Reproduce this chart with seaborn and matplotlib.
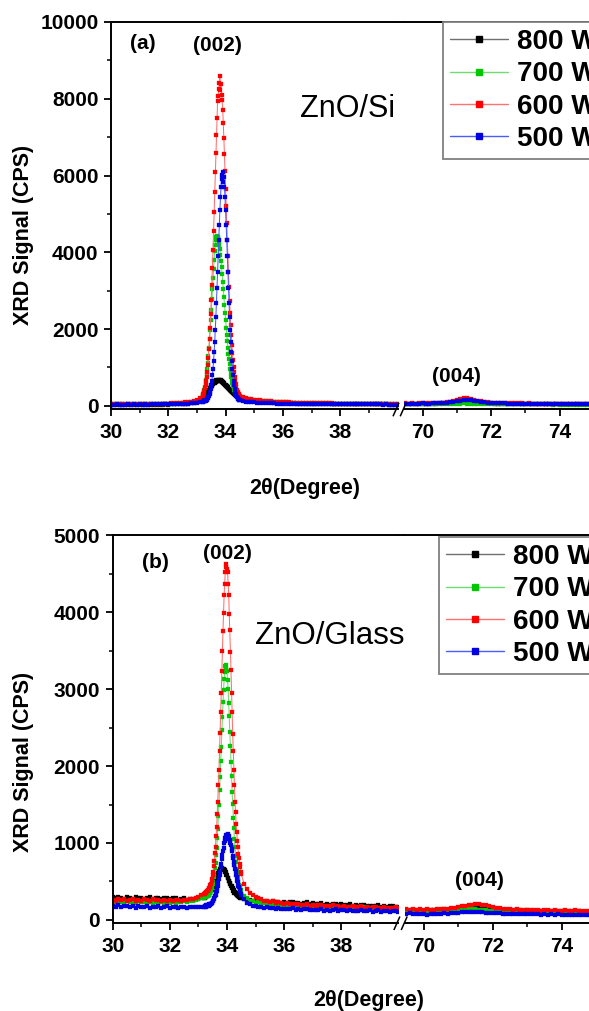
import numpy as np
import matplotlib
matplotlib.use("Agg")
import matplotlib.pyplot as plt
from matplotlib.lines import Line2D
from matplotlib.ticker import FixedLocator
import seaborn as sns

# ---------------------------------------------------------------- data
powers = ["800 W", "700 W", "600 W", "500 W"]
marker_colors = ["#000000", "#00c800", "#ff0000", "#0000e0"]
line_colors = ["#707070", "#70dc70", "#ff7070", "#4b5cff"]

# scan grids (2-theta, degrees): coarse baseline, fine (002) region, coarse tail
two_theta_low = np.round(np.concatenate([
    np.arange(30.0, 33.15, 0.1),
    np.arange(33.2, 34.49, 0.02),
    np.arange(34.5, 40.05, 0.1)]), 2)
two_theta_high = np.round(np.arange(69.5, 75.55, 0.1), 2)

# ZnO/Si, 30-40 deg
si_800_low = [
    28, 31, 27, 30, 29, 32, 28, 31, 30, 33, 29, 32, 31, 34, 30, 33, 32, 35, 33, 36,
    35, 37, 38, 40, 42, 45, 50, 56, 63, 75, 90, 126,
    188, 204, 222, 238, 256, 276, 296, 317, 339, 360, 384, 407, 431, 455, 478, 500,
    523, 544, 564, 584, 610, 598, 641, 622, 668, 645, 676, 655, 684, 650, 672, 640,
    661, 628, 637, 606, 614, 580, 587, 552, 551, 518, 514, 485, 480, 452, 447, 421,
    419, 393, 392, 365, 364, 340, 338, 315, 316, 294, 295, 274, 276, 256, 258, 240, 242,
    235, 205, 182, 163, 148, 134, 123, 113, 106, 99, 93, 88, 83, 79, 76, 72, 70, 67,
    65, 63, 61, 59, 58, 56, 55, 54, 52, 51, 50, 49, 48, 47, 46, 46, 45, 44, 43, 43,
    42, 41, 41, 40, 40, 39, 39, 38, 38, 37, 37, 36, 36, 36, 35, 35, 34, 34]
si_700_low = [
    38, 42, 36, 41, 39, 44, 40, 37, 43, 41, 45, 42, 46, 43, 47, 45, 49, 47, 51, 50,
    54, 57, 60, 64, 67, 72, 78, 85, 94, 104, 118, 138,
    255, 290, 342, 404, 478, 566, 675, 802, 947, 1113, 1297, 1503, 1731, 1972, 2230,
    2497, 2773, 3053, 3325, 3575, 3811, 4030, 4192, 4315, 4394, 4420,
    4407, 4363, 4293, 4201, 4078, 3938, 3776, 3605, 3424, 3229, 3036, 2830, 2624,
    2427, 2230, 2037, 1858, 1682, 1516, 1363, 1219, 1091, 969, 856, 758, 666, 589,
    522, 460, 420, 385, 350, 320, 295, 272, 255, 240, 228, 218,
    210, 190, 173, 160, 149, 140, 132, 126, 119, 114, 109, 104, 100, 97, 93, 91, 88,
    85, 83, 81, 79, 77, 75, 73, 72, 70, 69, 67, 66, 65, 63, 62, 61, 60, 59, 58, 57,
    56, 55, 55, 54, 53, 52, 52, 51, 50, 50, 49, 48, 48, 47, 47, 46, 46, 45, 45]
si_600_low = [
    40, 36, 44, 39, 42, 37, 45, 41, 38, 46, 43, 40, 47, 44, 49, 45, 51, 48, 55, 52,
    58, 62, 66, 71, 76, 83, 91, 100, 112, 128, 152, 192,
    269, 305, 347, 399, 467, 535, 646, 750, 890, 1056, 1253, 1492, 1748, 2038, 2380,
    2747, 3157, 3584, 4062, 4549, 5062, 5582, 6086, 6590, 7060, 7504, 7930, 8080,
    8260, 8400, 8590, 8220, 8380, 8090, 7960, 7700, 7359, 6966, 6556, 6112, 5659,
    5207, 4754, 4310, 3892, 3482, 3089, 2730, 2406, 2107, 1833, 1586, 1372, 1184,
    1022, 877, 749, 655, 561, 484, 424, 373, 330, 296, 271,
    258, 226, 204, 189, 175, 164, 151, 145, 134, 129, 120, 117, 109, 107, 100, 98,
    93, 91, 87, 86, 81, 80, 77, 76, 73, 72, 70, 68, 69, 65, 64, 62, 63, 60, 58, 59,
    56, 57, 54, 55, 52, 53, 50, 52, 49, 51, 48, 50, 47, 49, 46, 48, 45, 47, 44, 46]
si_500_low = [
    33, 30, 36, 32, 35, 31, 37, 34, 36, 33, 38, 35, 37, 34, 39, 36, 40, 38, 42, 40,
    44, 42, 46, 45, 49, 52, 55, 58, 63, 68, 76, 88,
    105, 111, 117, 125, 130, 136, 147, 160, 179, 200, 229, 264, 314, 370, 447, 539,
    654, 794, 963, 1164, 1398, 1666, 1970, 2306, 2673, 3065, 3475, 3895, 4313, 4717,
    5094, 5428, 5708, 5919, 6010, 6100, 5830, 5960, 5708, 5428, 5094, 4717, 4313,
    3895, 3475, 3065, 2673, 2306, 1970, 1666, 1398, 1164, 963, 794, 654, 539, 447,
    370, 314, 264, 229, 200, 179, 160, 147,
    142, 124, 113, 103, 95, 88, 83, 78, 74, 70, 67, 64, 62, 60, 58, 57, 55, 54, 52,
    51, 50, 49, 48, 47, 46, 46, 45, 44, 44, 43, 43, 42, 42, 41, 41, 40, 40, 40, 39,
    39, 38, 39, 38, 37, 38, 37, 36, 37, 36, 36, 35, 36, 35, 35, 34, 35]

# ZnO/Si, 69.5-75.5 deg
si_800_high = [
    55, 53, 56, 54, 52, 55, 53, 56, 57, 59, 62, 66, 72, 79, 87, 96, 104, 110, 112, 108,
    100, 91, 82, 74, 68, 63, 60, 58, 57, 56, 55, 54, 55, 53, 54, 52, 53, 51, 52, 50,
    51, 49, 50, 48, 49, 47, 48, 46, 47, 45, 46, 44, 45, 43, 44, 42, 43, 41, 42, 40, 41]
si_700_high = [
    45, 43, 46, 44, 42, 45, 43, 46, 44, 47, 46, 48, 50, 52, 55, 58, 60, 62, 61, 59,
    56, 53, 50, 48, 46, 45, 44, 43, 44, 42, 43, 41, 42, 40, 41, 39, 40, 38, 39, 37,
    38, 36, 37, 35, 36, 34, 35, 33, 34, 32, 33, 31, 32, 30, 31, 29, 30, 28, 29, 27, 28]
si_600_high = [
    62, 60, 63, 61, 64, 62, 65, 64, 67, 70, 75, 82, 93, 108, 127, 150, 175, 194, 198, 186,
    163, 138, 117, 100, 88, 80, 74, 70, 68, 66, 65, 63, 64, 62, 63, 61, 62, 60, 61, 59,
    60, 58, 59, 57, 58, 56, 57, 55, 56, 54, 55, 53, 54, 52, 53, 51, 52, 50, 51, 49, 50]
si_500_high = [
    58, 61, 57, 60, 59, 62, 58, 61, 63, 65, 68, 73, 80, 90, 103, 118, 134, 146, 150, 145,
    132, 116, 101, 89, 80, 73, 68, 65, 63, 62, 60, 61, 59, 60, 58, 59, 57, 58, 56, 57,
    55, 56, 54, 55, 53, 54, 52, 53, 51, 52, 50, 51, 49, 50, 48, 49, 47, 48, 46, 47, 46]

# ZnO/Glass, 30-40 deg
glass_800_low = [
    292, 281, 300, 286, 277, 296, 289, 274, 298, 283, 291, 276, 287, 295, 272, 284,
    290, 269, 281, 288, 266, 279, 285, 263, 274, 281, 262, 270, 277, 268, 275, 284,
    289, 301, 290, 308, 297, 318, 309, 331, 326, 352, 348, 375, 379, 392, 421, 425,
    455, 460, 492, 497, 530, 540, 572, 578, 610, 612, 641, 640, 668, 660, 678, 665,
    676, 659, 668, 645, 646, 618, 617, 586, 583, 551, 545, 512, 509, 476, 473, 441,
    439, 409, 410, 381, 384, 356, 360, 335, 344, 318, 327, 307, 316, 294, 305, 288, 299,
    287, 276, 262, 259, 248, 253, 241, 249, 237, 244, 232, 240, 228, 235, 223, 231,
    219, 227, 234, 216, 224, 212, 220, 227, 208, 216, 203, 212, 219, 200, 209, 196,
    204, 211, 193, 201, 189, 198, 205, 186, 194, 182, 190, 198, 179, 187, 176, 185,
    192, 172, 181, 169, 178, 186, 166, 174]
glass_700_low = [
    238, 226, 244, 231, 220, 241, 229, 236, 218, 240, 227, 233, 221, 239, 225, 230,
    217, 236, 224, 229, 219, 234, 222, 228, 231, 240, 236, 245, 252, 258, 266, 279,
    284, 301, 292, 309, 300, 318, 312, 331, 329, 352, 350, 377, 381, 414, 428, 471,
    497, 552, 596, 671, 740, 839, 934, 1061, 1188, 1346, 1496, 1683, 1861, 2066,
    2252, 2463, 2641, 2834, 2984, 3131, 3219, 3296, 3312, 3281, 3235, 3114, 3002,
    2818, 2657, 2446, 2266, 2051, 1875, 1668, 1509, 1331, 1199, 1048, 945, 827, 750,
    658, 606, 539, 509, 457, 441, 400, 392,
    366, 311, 280, 252, 243, 226, 231, 214, 219, 206, 199, 208, 192, 186, 197, 181,
    188, 176, 184, 172, 180, 169, 177, 165, 174, 163, 170, 160, 168, 158, 166, 157,
    163, 171, 155, 161, 150, 159, 166, 152, 157, 148, 155, 162, 146, 153, 144, 151,
    158, 143, 150, 141, 148, 155, 139, 146]
glass_600_low = [
    262, 248, 271, 255, 266, 244, 259, 273, 251, 263, 246, 268, 257, 249, 270, 254,
    261, 243, 265, 252, 258, 247, 262, 256, 250, 264, 258, 266, 272, 284, 298, 318,
    338, 352, 341, 361, 355, 377, 372, 394, 396, 421, 428, 457, 470, 512, 538, 589,
    628, 703, 762, 866, 953, 1090, 1212, 1380, 1532, 1748, 1949, 2196, 2428, 2701,
    2955, 3241, 3495, 3759, 3986, 4220, 4373, 4528, 4591, 4632, 4556, 4527, 4368,
    4226, 3981, 3765, 3489, 3247, 2950, 2707, 2422, 2198, 1947, 1750, 1530, 1408,
    1252, 1147, 1028, 951, 858, 801, 729, 688, 629,
    592, 472, 401, 355, 318, 298, 279, 270, 252, 249, 238, 241, 226, 231, 219, 213,
    224, 205, 209, 201, 212, 195, 190, 203, 186, 194, 182, 188, 197, 179, 183, 176,
    190, 172, 178, 169, 185, 171, 166, 175, 162, 170, 180, 161, 167, 158, 163, 172,
    155, 160, 166, 152, 158, 149, 163, 154]
glass_500_low = [
    182, 171, 190, 165, 178, 186, 168, 175, 160, 184, 170, 163, 179, 158, 172, 166,
    181, 157, 169, 175, 154, 167, 172, 159, 164, 170, 156, 168, 162, 171, 166, 173,
    168, 186, 171, 189, 174, 192, 179, 196, 183, 201, 193, 211, 204, 225, 221, 245,
    247, 270, 279, 309, 320, 358, 376, 418, 447, 497, 528, 588, 626, 688, 731, 795,
    838, 902, 940, 997, 1026, 1070, 1084, 1109, 1104, 1112, 1092, 1086, 1052, 1037,
    994, 970, 920, 891, 837, 806, 751, 720, 665, 636, 585, 558, 510, 488, 444, 426,
    387, 374, 340,
    326, 268, 226, 207, 186, 179, 164, 171, 156, 162, 150, 158, 143, 152, 139, 147,
    136, 145, 151, 133, 141, 129, 138, 146, 127, 135, 124, 133, 141, 122, 131, 120,
    128, 136, 118, 126, 133, 115, 124, 119, 112, 122, 129, 110, 118, 125, 108, 116,
    123, 106, 114, 121, 104, 112, 119, 103]

# ZnO/Glass, 69.5-75.5 deg
glass_800_high = [
    124, 131, 119, 127, 133, 121, 128, 125, 134, 122, 129, 136, 131, 140, 144, 150,
    154, 158, 163, 161, 165, 160, 156, 150, 146, 140, 137, 132, 128, 131, 125, 129,
    121, 126, 118, 124, 120, 115, 122, 117, 112, 119, 114, 109, 116, 111, 106, 113,
    108, 104, 110, 105, 101, 108, 103, 98, 105, 100, 96, 102, 97]
glass_700_high = [
    108, 101, 112, 104, 99, 110, 103, 106, 98, 111, 105, 109, 113, 117, 121, 126,
    130, 133, 137, 136, 138, 134, 130, 125, 120, 116, 112, 109, 106, 103, 107, 100,
    104, 98, 102, 96, 100, 94, 98, 92, 97, 91, 95, 89, 94, 88, 92, 86, 90, 85, 89,
    83, 88, 82, 86, 80, 85, 79, 83, 78, 82]
glass_600_high = [
    138, 126, 142, 131, 137, 124, 140, 133, 129, 144, 138, 147, 141, 155, 160, 168,
    175, 186, 192, 199, 204, 206, 198, 190, 178, 170, 158, 152, 146, 141, 137, 132,
    139, 128, 135, 130, 124, 133, 127, 121, 130, 125, 119, 128, 122, 117, 126, 120,
    115, 124, 118, 113, 122, 116, 111, 120, 114, 109, 118, 112, 108]
glass_500_high = [
    78, 84, 72, 80, 75, 83, 70, 79, 76, 82, 77, 84, 80, 87, 90, 94, 97, 101, 104, 102,
    105, 103, 99, 96, 92, 89, 86, 84, 81, 79, 82, 76, 80, 74, 78, 72, 77, 71, 75, 70,
    74, 68, 73, 67, 71, 66, 70, 64, 69, 63, 68, 62, 67, 61, 65, 60, 64, 58, 63, 57, 62]

for name, arr, grid in [
        ("si_800_low", si_800_low, two_theta_low), ("si_700_low", si_700_low, two_theta_low),
        ("si_600_low", si_600_low, two_theta_low), ("si_500_low", si_500_low, two_theta_low),
        ("glass_800_low", glass_800_low, two_theta_low), ("glass_700_low", glass_700_low, two_theta_low),
        ("glass_600_low", glass_600_low, two_theta_low), ("glass_500_low", glass_500_low, two_theta_low),
        ("si_800_high", si_800_high, two_theta_high), ("si_700_high", si_700_high, two_theta_high),
        ("si_600_high", si_600_high, two_theta_high), ("si_500_high", si_500_high, two_theta_high),
        ("glass_800_high", glass_800_high, two_theta_high), ("glass_700_high", glass_700_high, two_theta_high),
        ("glass_600_high", glass_600_high, two_theta_high), ("glass_500_high", glass_500_high, two_theta_high)]:
    if len(arr) != len(grid):
        raise ValueError(f"{name}: {len(arr)} values for {len(grid)} angles")

# ---------------------------------------------------------------- style
sns.set_theme(style="ticks")
plt.rcParams["font.family"] = ["Liberation Sans", "DejaVu Sans"]
plt.rcParams.update({
    "axes.edgecolor": "black", "axes.linewidth": 1.4,
    "xtick.color": "black", "ytick.color": "black",
    "text.color": "black", "axes.labelcolor": "black",
    "xtick.major.width": 1.3, "ytick.major.width": 1.3,
    "xtick.minor.width": 1.1, "ytick.minor.width": 1.1,
})

W, H = 589, 1011
fig = plt.figure(figsize=(W / 100, H / 100), dpi=100)


def px_axes(left, top, right, bottom):
    return fig.add_axes([left / W, 1 - bottom / H, (right - left) / W, (bottom - top) / H])


def fig_line(xs, ys, lw=1.4, color="black"):
    fig.add_artist(Line2D([x / W for x in xs], [1 - y / H for y in ys],
                          transform=fig.transFigure, lw=lw, color=color,
                          solid_capstyle="butt"))


def draw_series(ax, x, series_list):
    for y, mc, lc in zip(series_list, marker_colors, line_colors):
        sns.lineplot(x=x, y=y, ax=ax, color=lc, marker="s", markersize=3.5,
                     markerfacecolor=mc, markeredgecolor=mc, markeredgewidth=0.2,
                     linewidth=0.75, estimator=None, sort=False, legend=False)


def style_pair(ax_lo, ax_hi, ylim, ymajor, yminor):
    for ax in (ax_lo, ax_hi):
        ax.set_ylim(*ylim)
        ax.set_xlabel("")
        ax.set_ylabel("")
        ax.tick_params(axis="both", which="major", direction="out", length=5,
                       labelsize=15, pad=5)
        ax.tick_params(axis="both", which="minor", direction="out", length=2.6)
        ax.spines["right"].set_visible(False)
    ax_lo.set_xlim(30, 40)
    ax_lo.xaxis.set_major_locator(FixedLocator([30, 32, 34, 36, 38]))
    ax_lo.xaxis.set_minor_locator(FixedLocator([31, 33, 35, 37, 39]))
    ax_lo.yaxis.set_major_locator(FixedLocator(ymajor))
    ax_lo.yaxis.set_minor_locator(FixedLocator(yminor))
    ax_lo.tick_params(axis="y", which="major", pad=4)
    ax_hi.set_xlim(69.45, 77)
    ax_hi.xaxis.set_major_locator(FixedLocator([70, 72, 74]))
    ax_hi.xaxis.set_minor_locator(FixedLocator([71, 73, 75]))
    ax_hi.spines["left"].set_visible(False)
    ax_hi.tick_params(axis="y", which="both", left=False, labelleft=False)
    for lab in ax_lo.get_xticklabels() + ax_lo.get_yticklabels() + ax_hi.get_xticklabels():
        lab.set_fontweight("bold")


def breaks_and_top(x_gap_lo, x_gap_hi, top, bottom):
    fig_line([x_gap_lo, x_gap_hi], [top, top])
    fig_line([x_gap_lo - 4.5, x_gap_lo + 1.5], [bottom + 7, bottom - 6.5], lw=1.1)
    fig_line([x_gap_hi - 3.5, x_gap_hi + 2.5], [bottom + 7, bottom - 6.5], lw=1.1)


label_font = dict(fontsize=15, fontweight="bold", ha="center", va="center")

# ---------------------------------------------------------------- (a) ZnO/Si
ax_a_lo = px_axes(111, 22, 397.5, 409.3)
ax_a_hi = px_axes(403.7, 22, 662.7, 409.3)
draw_series(ax_a_lo, two_theta_low, [si_800_low, si_700_low, si_600_low, si_500_low])
draw_series(ax_a_hi, two_theta_high, [si_800_high, si_700_high, si_600_high, si_500_high])
style_pair(ax_a_lo, ax_a_hi, (-90, 10000), [0, 2000, 4000, 6000, 8000, 10000],
           [1000, 3000, 5000, 7000, 9000])
breaks_and_top(397.5, 403.7, 22, 409.3)
ax_a_lo.text(31.12, 9430, "(a)", **label_font)
ax_a_lo.text(33.70, 9400, "(002)", **label_font)
ax_a_lo.text(38.27, 7730, "ZnO/Si", fontsize=22, ha="center", va="center")
ax_a_hi.text(71.0, 755, "(004)", **label_font)

# ---------------------------------------------------------------- (b) ZnO/Glass
ax_b_lo = px_axes(112.7, 535.3, 398.4, 923)
ax_b_hi = px_axes(404.7, 535.3, 665.2, 923)
draw_series(ax_b_lo, two_theta_low, [glass_800_low, glass_700_low, glass_600_low, glass_500_low])
draw_series(ax_b_hi, two_theta_high, [glass_800_high, glass_700_high, glass_600_high, glass_500_high])
style_pair(ax_b_lo, ax_b_hi, (-40, 5000), [0, 1000, 2000, 3000, 4000, 5000],
           [500, 1500, 2500, 3500, 4500])
breaks_and_top(398.4, 404.7, 535.3, 923)
ax_b_lo.text(31.48, 4650, "(b)", **label_font)
ax_b_lo.text(34.0, 4766, "(002)", **label_font)
ax_b_lo.text(37.6, 3693, "ZnO/Glass", fontsize=22.5, ha="center", va="center")
ax_b_hi.text(71.63, 506, "(004)", **label_font)

# ---------------------------------------------------------------- axis titles
title_font = dict(fontsize=15.5, fontweight="bold", ha="center", va="center")
fig.text(24 / W, 1 - 235 / H, "XRD Signal (CPS)", rotation=90, **title_font)
fig.text(24 / W, 1 - 762 / H, "XRD Signal (CPS)", rotation=90, **title_font)
fig.text(304.5 / W, 1 - 489 / H, "2\u03b8(Degree)", **title_font)
fig.text(369 / W, 1 - 1000.5 / H, "2\u03b8(Degree)", **title_font)

# ---------------------------------------------------------------- legends
handles = [Line2D([], [], color=lc, lw=1.0, marker="s", markersize=4,
                  markerfacecolor=mc, markeredgecolor=mc)
           for mc, lc in zip(marker_colors, line_colors)]
for left, top in [(443, 22), (439, 537)]:
    leg = fig.legend(handles, powers, loc="upper left",
                     bbox_to_anchor=(left / W, 1 - top / H), bbox_transform=fig.transFigure,
                     prop={"size": 20, "weight": "bold"}, frameon=True, fancybox=False,
                     framealpha=1, edgecolor="#808080", borderpad=0.25,
                     labelspacing=0.23, handlelength=2.1, handletextpad=0.3,
                     borderaxespad=0)
    leg.get_frame().set_linewidth(1.3)

fig.savefig("out.png", dpi=100)
